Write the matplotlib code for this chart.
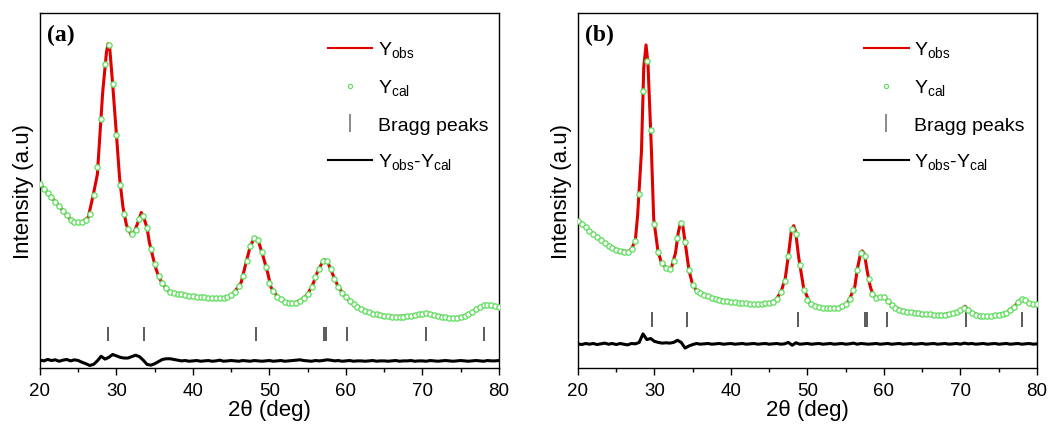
import numpy as np
import matplotlib
matplotlib.use('Agg')
import matplotlib.pyplot as plt
from matplotlib.lines import Line2D
from matplotlib.ticker import MultipleLocator

plt.rcParams['font.family'] = ['Liberation Sans', 'DejaVu Sans']
plt.rcParams['mathtext.fontset'] = 'custom'
plt.rcParams['mathtext.rm'] = 'Liberation Sans'

# ---- panel (a) data (arbitrary intensity units) ----
obs_a_x = [20.0, 21.5, 22.8, 24.1, 25.4, 26.3, 26.9, 27.5, 27.8, 28.2, 28.7, 28.9, 29.1, 29.5,
           30.0, 30.4, 30.85, 31.3, 31.9, 32.4, 32.8, 33.25, 33.6, 34.0, 34.3, 34.8, 35.2, 35.6,
           36.2, 37.0, 38.5, 40.7, 42.8, 44.6, 45.4, 46.3, 47.0, 47.5, 48.1, 48.5, 49.15, 49.8,
           50.2, 51.1, 52.0, 53.1, 54.2, 55.0, 55.7, 56.25, 56.8, 57.2, 57.65, 58.3, 58.95, 59.8,
           60.9, 62.0, 63.75, 65.9, 68.1, 69.8, 70.7, 72.0, 73.75, 75.05, 76.15, 77.0, 77.9, 78.8, 79.9]
obs_a_y = [51.8, 48.1, 44.8, 41.5, 41.0, 42.4, 48.1, 54.5, 64.5, 77.7, 89.1, 91.3, 90.6, 80.0,
           65.6, 53.7, 45.3, 40.3, 37.5, 38.7, 41.0, 43.8, 42.2, 39.4, 35.4, 30.9, 27.7, 25.3,
           23.2, 21.3, 20.7, 20.1, 19.6, 19.9, 21.3, 24.1, 30.2, 34.4, 36.8, 36.1, 31.6, 26.5,
           22.7, 19.9, 18.7, 18.2, 19.2, 20.8, 23.7, 26.9, 29.3, 30.5, 29.6, 26.2, 23.0, 20.4,
           18.0, 16.6, 15.2, 14.5, 14.6, 15.2, 15.4, 14.7, 14.1, 14.3, 15.2, 16.6, 17.5, 17.7, 17.1]

cal_x = np.arange(20.0, 80.01, 0.5)
cal_a = [51.8, 50.5, 49.3, 48.1, 46.8, 45.5, 44.3, 43.0, 41.8, 41.2,
         41.0, 41.0, 41.7, 43.5, 48.8, 56.5, 70.0, 85.5, 91.0, 80.0,
         65.6, 51.5, 43.5, 39.2, 37.6, 39.0, 42.0, 42.8, 39.4, 33.5,
         29.2, 25.8, 23.8, 22.4, 21.4, 21.0, 20.8, 20.7, 20.5, 20.4,
         20.2, 20.1, 20.0, 19.9, 19.8, 19.7, 19.6, 19.6, 19.7, 19.9,
         20.5, 21.5, 23.0, 26.0, 30.2, 34.4, 36.6, 36.1, 32.8, 28.5,
         24.0, 21.6, 20.1, 19.3, 18.7, 18.4, 18.2, 18.4, 19.0, 19.7,
         20.8, 22.8, 25.5, 28.0, 30.0, 30.0, 27.8, 25.2, 22.9, 21.2,
         20.0, 18.9, 17.9, 17.2, 16.6, 16.1, 15.7, 15.3, 15.1, 14.9,
         14.7, 14.6, 14.5, 14.5, 14.5, 14.5, 14.6, 14.7, 14.9, 15.1,
         15.3, 15.4, 15.3, 15.0, 14.7, 14.5, 14.3, 14.1, 14.1, 14.1,
         14.3, 14.6, 15.1, 15.8, 16.6, 17.2, 17.6, 17.7, 17.6, 17.4, 17.1]

diff_a = [2.2, 2.0, 2.4, 2.1, 2.3, 1.9, 2.2, 2.4, 2.0, 2.3,
          2.1, 1.6, 1.2, 0.7, 1.0, 2.0, 3.3, 2.5, 3.0, 3.8,
          3.4, 3.0, 2.8, 2.8, 3.2, 3.6, 3.2, 2.2, 1.0, 0.8,
          1.2, 1.8, 2.4, 2.6, 2.6, 2.4, 2.2, 2.0, 2.1, 1.9,
          2.0, 2.1, 1.9, 2.0, 2.1, 1.9, 2.0, 2.2, 1.9, 2.0,
          2.1, 2.0, 1.9, 2.1, 2.0, 1.9, 2.1, 2.0, 1.9, 2.0,
          2.1, 1.9, 2.0, 2.1, 1.9, 2.0, 2.1, 2.2, 2.3, 2.1,
          2.0, 1.9, 2.1, 2.0, 2.1, 2.3, 2.2, 2.0, 2.1, 1.9,
          2.0, 2.1, 1.9, 2.0, 2.0, 1.9, 2.0, 2.1, 1.9, 2.0,
          2.0, 1.9, 2.0, 2.1, 1.9, 2.0, 2.0, 2.1, 1.9, 2.0,
          2.0, 1.9, 2.1, 2.0, 1.9, 2.0, 2.1, 2.0, 1.9, 2.0,
          2.1, 2.0, 1.9, 2.0, 2.1, 2.0, 1.9, 2.1, 2.0, 2.0, 2.1]

bragg_a = [28.9, 33.6, 48.2, 57.1, 57.35, 60.1, 70.5, 78.0]

# ---- panel (b) data ----
obs_b_x = [20.0, 21.5, 22.8, 24.1, 25.4, 26.7, 27.1, 27.5, 27.8, 28.3, 28.6, 28.9, 29.15, 29.6,
           29.9, 30.45, 30.9, 31.55, 32.2, 32.75, 33.1, 33.4, 33.7, 34.1, 34.5, 34.95, 35.5,
           36.8, 38.5, 40.7, 42.9, 45.05, 45.9, 46.6, 47.1, 47.5, 47.9, 48.2, 48.45, 48.85,
           49.5, 50.3, 51.6, 52.9, 54.2, 55.1, 55.6, 56.2, 56.5, 56.9, 57.15, 57.45, 57.8, 58.2,
           58.6, 59.2, 59.9, 60.4, 61.1, 62.5, 64.65, 67.3, 69.0, 70.1, 70.6, 71.2, 72.5, 74.25,
           76.0, 77.1, 77.95, 78.6, 79.25, 79.9]
obs_b_y = [41.5, 38.7, 36.3, 34.3, 33.0, 32.8, 34.0, 35.9, 43.1, 61.0, 84.7, 91.0, 85.8, 61.5,
           42.0, 33.0, 29.7, 28.1, 28.1, 32.4, 38.0, 41.0, 40.1, 34.0, 27.7, 23.7, 21.8,
           20.4, 19.2, 18.5, 18.0, 18.3, 19.2, 21.8, 25.3, 31.6, 38.7, 40.1, 38.4, 31.2,
           22.5, 18.3, 17.1, 16.8, 17.1, 18.0, 19.9, 23.0, 27.7, 31.8, 33.0, 32.1, 27.4, 23.0,
           20.4, 19.6, 20.1, 19.2, 17.5, 16.1, 15.4, 14.9, 15.4, 16.3, 17.4, 16.0, 14.7, 14.7,
           15.5, 17.5, 19.4, 19.0, 17.8, 18.0]

cal_b = [41.5, 40.5, 39.6, 38.7, 37.8, 36.9, 36.0, 35.2, 34.4, 33.8,
         33.3, 33.0, 32.8, 32.7, 33.6, 35.9, 49.0, 78.0, 86.5, 67.0,
         40.5, 32.7, 29.5, 28.2, 28.0, 30.0, 36.5, 40.8, 35.5, 27.7,
         23.5, 21.8, 21.1, 20.6, 20.2, 19.8, 19.5, 19.2, 19.0, 18.8,
         18.7, 18.5, 18.4, 18.3, 18.2, 18.1, 18.0, 18.0, 18.1, 18.2,
         18.3, 18.7, 19.5, 21.3, 24.5, 31.6, 39.2, 37.8, 29.0, 22.0,
         19.2, 18.0, 17.5, 17.2, 17.0, 16.9, 16.8, 16.9, 17.0, 17.4,
         17.9, 19.4, 22.0, 27.7, 32.3, 31.6, 25.0, 20.9, 19.7, 19.9,
         20.0, 19.0, 17.7, 16.9, 16.4, 16.1, 15.9, 15.7, 15.6, 15.4,
         15.3, 15.2, 15.1, 15.0, 14.9, 14.9, 15.0, 15.2, 15.4, 15.8,
         16.2, 17.0, 16.3, 15.5, 15.0, 14.7, 14.6, 14.6, 14.7, 14.8,
         15.0, 15.2, 15.5, 16.3, 17.3, 18.5, 19.4, 19.1, 18.3, 17.9, 18.0]

diff_b = [6.8, 6.6, 6.9, 6.7, 6.9, 6.6, 6.8, 7.0, 6.7, 6.9,
          6.6, 6.9, 6.7, 6.5, 6.9, 6.8, 7.2, 9.6, 8.0, 8.3,
          7.5, 7.2, 7.0, 7.1, 7.0, 7.2, 7.8, 7.2, 5.6, 6.2,
          6.6, 6.9, 6.7, 6.8, 6.9, 6.7, 6.8, 6.9, 6.7, 6.8,
          6.9, 6.7, 6.8, 6.9, 6.7, 6.8, 6.9, 6.7, 6.8, 6.9,
          6.7, 6.8, 6.9, 6.7, 6.8, 7.2, 6.4, 7.1, 6.7, 6.8,
          6.9, 6.7, 6.8, 6.9, 6.7, 6.8, 6.9, 6.7, 6.8, 6.9,
          6.7, 6.8, 7.0, 6.7, 6.9, 6.8, 6.7, 6.8, 6.9, 6.7,
          6.8, 6.9, 6.7, 6.8, 6.9, 6.7, 6.8, 6.9, 6.7, 6.8,
          6.9, 6.7, 6.8, 6.9, 6.7, 6.8, 6.9, 6.7, 6.8, 6.9,
          6.7, 7.0, 6.8, 6.9, 6.7, 6.8, 6.9, 6.7, 6.8, 6.9,
          6.7, 6.8, 6.9, 6.7, 6.8, 6.9, 6.7, 6.8, 6.9, 6.7, 6.8]

bragg_b = [29.7, 34.2, 48.7, 57.5, 57.8, 60.4, 70.7, 78.0]

RED = '#e00000'
GREEN = '#5ade5a'
GREY = '#404040'


def draw_panel(ax, tag, obs_x, obs_y, cal, diff, bragg, tick_lo, tick_hi, leg_x):
    ax.plot(obs_x, obs_y, color=RED, lw=2.2, zorder=2)
    ax.plot(cal_x, cal, ls='none', marker='o', ms=3.8, mfc='white', mec=GREEN, mew=0.9, zorder=3)
    ax.vlines(bragg, tick_lo, tick_hi, color=GREY, lw=1.2)
    ax.plot(cal_x, diff, color='black', lw=2.2)

    ax.set_xlim(20, 80)
    ax.set_ylim(0, 100)
    ax.set_yticks([])
    ax.xaxis.set_major_locator(MultipleLocator(10))
    ax.xaxis.set_minor_locator(MultipleLocator(5))
    ax.tick_params(axis='x', which='major', direction='out', length=5, width=1, labelsize=13.5, pad=5)
    ax.tick_params(axis='x', which='minor', direction='out', length=3, width=1)
    for s in ax.spines.values():
        s.set_linewidth(1.0)

    ax.set_xlabel('2θ (deg)', fontsize=16, labelpad=0)
    ax.set_ylabel('Intensity (a.u)', fontsize=16, labelpad=4)
    ax.text(0.015, 0.94, tag, transform=ax.transAxes, ha='left', va='center',
            fontsize=17, fontweight='bold', family=['Liberation Serif', 'DejaVu Serif'])

    handles = [
        Line2D([], [], color=RED, lw=1.5),
        Line2D([], [], ls='none', marker='o', ms=3, mfc='white', mec=GREEN, mew=0.8),
        Line2D([], [], ls='none', marker='|', ms=13, mec='#777777', mew=1.2),
        Line2D([], [], color='black', lw=1.5),
    ]
    labels = ['Y$_\\mathregular{obs}$', 'Y$_\\mathregular{cal}$', 'Bragg peaks',
              'Y$_\\mathregular{obs}$-Y$_\\mathregular{cal}$']
    ax.legend(handles, labels, loc='upper left', bbox_to_anchor=(leg_x, 0.925),
              frameon=False, fontsize=14, handlelength=2.3, handletextpad=0.3,
              labelspacing=0.92, borderpad=0, borderaxespad=0)


fig = plt.figure(figsize=(10.52, 4.31), dpi=100)
ax_a = fig.add_axes([0.038, 0.1439, 0.4363, 0.8237])
ax_b = fig.add_axes([0.5494, 0.1439, 0.4363, 0.8237])

draw_panel(ax_a, '(a)', obs_a_x, obs_a_y, cal_a, diff_a, bragg_a, 7.6, 11.6, 0.627)
draw_panel(ax_b, '(b)', obs_b_x, obs_b_y, cal_b, diff_b, bragg_b, 11.5, 15.8, 0.623)

fig.savefig('out.png', dpi=100)
